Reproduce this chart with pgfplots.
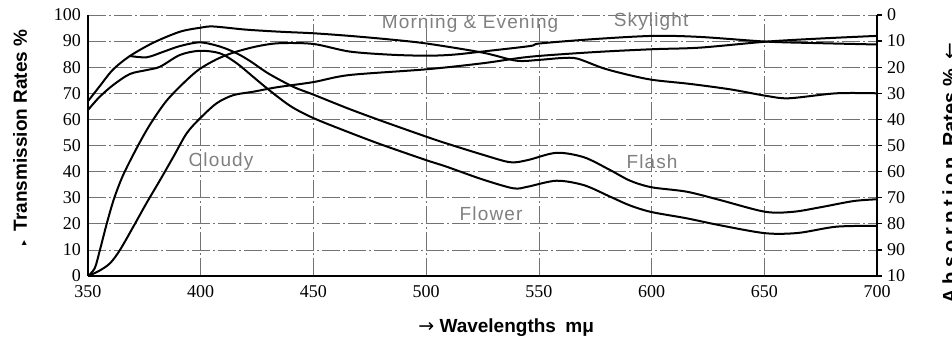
\documentclass[border=0pt]{standalone}
\usepackage{pgfplots}
\pgfplotsset{compat=1.18}
\usepackage{fontspec}
\setmainfont{Liberation Serif}
\newfontfamily\lsans{Liberation Sans}
\newfontfamily\spacedsans[LetterSpace=22]{Liberation Sans}
\newfontfamily\lightsans[LetterSpace=6]{Liberation Sans}
\newfontfamily\dejavu{DejaVu Sans}

\begin{document}
\begin{tikzpicture}
\begin{axis}[
  name=main,
  scale only axis, width=394.5pt, height=130.5pt,
  xmin=350, xmax=700, ymin=0, ymax=100,
  axis x line*=bottom, axis y line*=left,
  axis line style={line width=1.1pt, -},
  xtick={350,400,...,700}, ytick={0,10,...,100},
  major tick length=0pt,
  grid=major,
  major grid style={black!55, line width=0.35pt, dash pattern=on 9pt off 1.5pt on 1pt off 1.5pt},
  /pgf/number format/assume math mode=true,
  tick label style={font=\fontsize{9}{10}\selectfont},
  xticklabel style={yshift=-1pt},
  clip=false,
]
% Morning & Evening type curve (peak ~96 at 405)
\addplot[black, line width=1pt, smooth, tension=0.5] coordinates {
(350,67) (355,72.5) (361,79) (368.6,84.3) (379,89.4) (390.8,93.6) (399.7,95.1) (405.6,95.6) (420,94.4) (435,93.6) (450,93) (466,92) (483,90.7) (500,89.1) (525,85.6) (540,82.5) (550,82.8) (560,83.5) (567,83.3) (578.6,79.6) (590,77) (600.8,75.1) (617,73.6) (635,71.5) (651,69) (661,68.1) (682,70) (700,70)};
% Flash
\addplot[black, line width=1pt, smooth, tension=0.5] coordinates {
(368.6,84.3) (376,83.8) (383.4,85.9) (390.8,88.1) (399.7,89.5) (408.6,87.9) (416,85.3) (422,82.3) (430,77.6) (441,72.5) (450,69.5) (465,64.3) (480,59.5) (500,53.4) (509,50.8) (525,46.5) (537.2,43.6) (545,44.4) (557.8,47.2) (570,45.5) (581.6,40.6) (590.5,36.5) (600,34) (615.6,32.3) (630.4,29.1) (650.4,24.6) (662.8,24.6) (674.7,26.3) (689.5,28.7) (700,29.4)};
% Flower
\addplot[black, line width=1pt, smooth, tension=0.5] coordinates {
(350,63.6) (355,68.5) (361.2,73.2) (368.6,77.4) (376,78.9) (382,80.2) (390.8,84.7) (399.7,86.3) (408.6,85.3) (416,81.5) (423,76.5) (430.7,71) (440,65) (450,60.5) (465,55.3) (480,50.4) (500,44.4) (509,41.9) (525,37) (538.7,33.6) (545,34.2) (557.8,36.5) (570,34.8) (581.6,30.4) (590.5,27) (600,24.5) (615.6,22.1) (630,19.5) (650.4,16.4) (665,16.5) (682,18.9) (700,19.2)};
% Skylight type curve (fast rise)
\addplot[black, line width=1pt, smooth, tension=0.5] coordinates {
(350,0) (353,3) (355.3,10) (358.3,20) (361.5,29.5) (365.5,38.5) (371.6,49) (377.5,58) (384.9,67.2) (393.8,75.1) (399.7,79.4) (407,83) (414.5,85.6) (425,88) (435,89.2) (450,88.9) (466,86) (484,84.8) (500.2,84.4) (512,84.8) (525,86) (546,88.1) (550.5,89.1) (575,90.8) (600.8,92) (621.5,91.6) (651,89.8) (675,89.2) (700,88.7)};
% Cloudy
\addplot[black, line width=1pt, smooth, tension=0.5] coordinates {
(350,0) (355,2) (359.8,4.9) (364.2,10) (370.5,19.5) (376,28) (382,36.8) (387.9,45.7) (393.8,54.7) (399.7,60.4) (407.1,66.2) (414.5,69.3) (423.3,70.6) (433.7,72.3) (450,74.3) (466,77) (500.2,79.2) (525,81.5) (546,84) (575,85.8) (600.8,86.9) (621.5,87.5) (651,89.8) (675,91) (700,92)};

\node[font=\lightsans\fontsize{9.5}{11}\selectfont, text=black!50] at (axis cs:519.5,96.8) {Morning \& Evening};
\node[font=\lightsans\fontsize{9.5}{11}\selectfont, text=black!50] at (axis cs:599.8,97.4) {Skylight};
\node[font=\lightsans\fontsize{9.5}{11}\selectfont, text=black!50] at (axis cs:409,43.8) {Cloudy};
\node[font=\lightsans\fontsize{9.5}{11}\selectfont, text=black!50] at (axis cs:600.2,43.8) {Flash};
\node[font=\lightsans\fontsize{9.5}{11}\selectfont, text=black!50] at (axis cs:528.8,24) {Flower};

\node[font=\lsans\fontsize{9.5}{11}\selectfont] at ([yshift=-26pt]axis description cs:0.53,0) {{\dejavu →} \textbf{Wavelengths\enspace mμ}};
\node[rotate=90, font=\lsans\fontsize{9.5}{11}\selectfont] at ([xshift=-34pt]axis description cs:0,0.53) {{\dejavu\tiny ▸}\enspace\textbf{Transmission Rates \%}};
\node[rotate=90, anchor=north east, inner sep=0pt, font=\lsans\fontsize{10}{11}\selectfont] at ([xshift=427pt, yshift=117pt]axis description cs:0,0) {{\spacedsans\bfseries Absorption}\enspace\textbf{Rates \%}\enspace{\dejavu ←}};
\coordinate (O) at (axis description cs:0,0);
\end{axis}
\begin{axis}[
  at={(main.south west)}, anchor=south west,
  scale only axis, width=394.5pt, height=130.5pt,
  xmin=350, xmax=700, ymin=0, ymax=100,
  axis x line=none, axis y line*=right,
  axis line style={line width=1.1pt, -},
  ytick={0,10,...,100},
  yticklabels={10,90,80,70,60,50,40,30,20,10,0},
  major tick length=2.5pt, tick align=outside,
  tick style={line width=0.6pt, black},
  /pgf/number format/assume math mode=true,
  tick label style={font=\fontsize{9}{10}\selectfont},
  yticklabel style={xshift=-1pt},
]
\addplot[draw=none] coordinates {(350,0) (700,100)};
\end{axis}
\pgfresetboundingbox
\path (O) ++(-44pt,-30.5pt) rectangle ++(476pt,168.5pt);
\end{tikzpicture}
\end{document}
